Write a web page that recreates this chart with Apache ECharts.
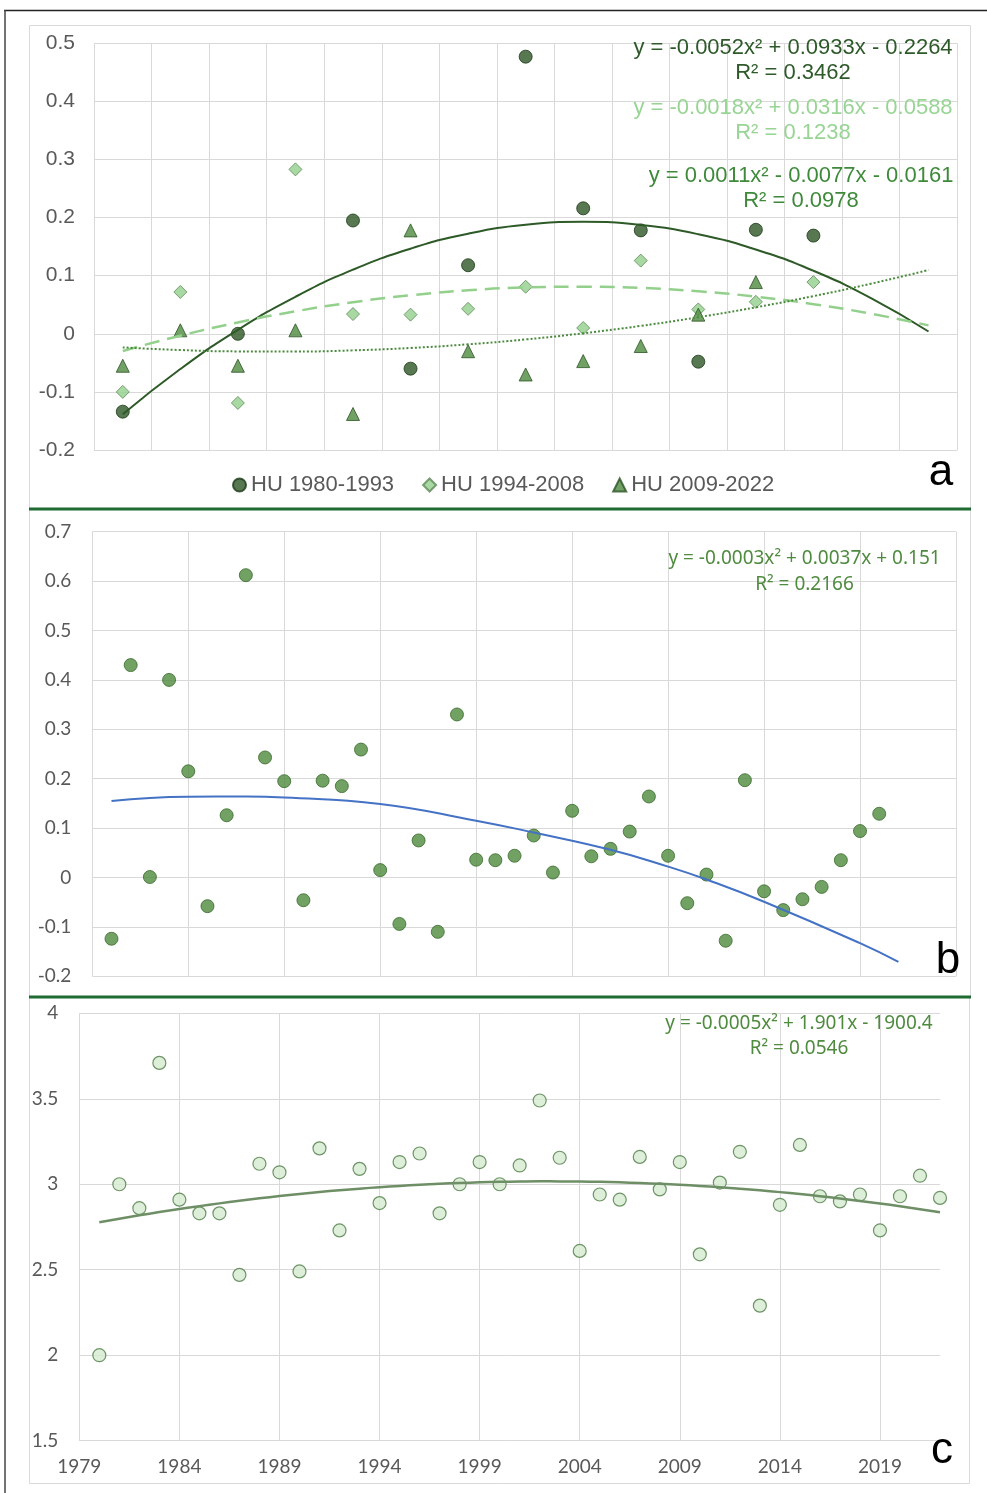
<!DOCTYPE html>
<html><head><meta charset="utf-8">
<script src="https://cdn.jsdelivr.net/npm/echarts@6/dist/echarts.min.js"></script>
<style>html,body{margin:0;padding:0;background:#fff}#c{width:987px;height:1493px}</style>
</head><body><div id="c"></div>
<script>
// ---------- Panel a ----------
const catsA = ['1','2','3','4','5','6','7','8','9','10','11','12','13','14','15'];
const hu8093 = [-0.134, null, 0.000, null, 0.195, -0.060, 0.118, 0.477, 0.216, 0.178, -0.048, 0.179, 0.169, null, null];
const hu9408 = [-0.100, 0.072, -0.119, 0.283, 0.034, 0.033, 0.043, 0.081, 0.010, 0.126, 0.042, 0.055, 0.089, null, null];
const hu0922 = [-0.055, 0.006, -0.055, 0.006, -0.138, 0.178, -0.030, -0.070, -0.047, -0.021, 0.033, 0.089, null, null, null];
const namesA = ['HU 1980-1993', 'HU 1994-2008', 'HU 2009-2022'];
const eqA1 = ['y = -0.0052x² + 0.0933x - 0.2264', 'R² = 0.3462'];
const eqA2 = ['y = -0.0018x² + 0.0316x - 0.0588', 'R² = 0.1238'];
const eqA3 = ['y = 0.0011x² - 0.0077x - 0.0161', 'R² = 0.0978'];
const ticksA = [-0.2, -0.1, 0, 0.1, 0.2, 0.3, 0.4, 0.5];

// ---------- Panel b ----------
const yearsB = ['1979','1980','1981','1982','1983','1984','1985','1986','1987','1988','1989','1990','1991','1992','1993','1994','1995','1996','1997','1998','1999','2000','2001','2002','2003','2004','2005','2006','2007','2008','2009','2010','2011','2012','2013','2014','2015','2016','2017','2018','2019','2020','2021','2022','2023','2024'];
const valuesB = [null,
  -0.124, 0.430, 0.001, 0.400, 0.215, -0.058, 0.126, 0.612, 0.243, 0.195,
  -0.046, 0.196, 0.185, 0.259, 0.015, -0.094, 0.075, -0.110, 0.330, 0.036,
  0.035, 0.044, 0.085, 0.010, 0.135, 0.043, 0.058, 0.093, 0.164, 0.044,
  -0.052, 0.006, -0.128, 0.197, -0.028, -0.066, -0.044, -0.019, 0.035, 0.094,
  0.129, null, null, null, null];
// trendline of panel b (year, value)
const trendYearsB = ['1980','1984','1987','1989','1994','1999','2002','2006','2009','2011','2014','2019','2021'];
const trendValuesB = [0.155, 0.1636, 0.164, 0.162, 0.149, 0.115, 0.091, 0.056, 0.022, -0.004, -0.049, -0.133, -0.171];
const eqB = ['y = -0.0003x² + 0.0037x + 0.151', 'R² = 0.2166'];

// ---------- Panel c ----------
const yearsC = ['1979','1980','1981','1982','1983','1984','1985','1986','1987','1988','1989','1990','1991','1992','1993','1994','1995','1996','1997','1998','1999','2000','2001','2002','2003','2004','2005','2006','2007','2008','2009','2010','2011','2012','2013','2014','2015','2016','2017','2018','2019','2020','2021','2022'];
const valuesC = [null,
  2.00, 3.00, 2.86, 3.71, 2.91, 2.83, 2.83, 2.47, 3.12, 3.07,
  2.49, 3.21, 2.73, 3.09, 2.89, 3.13, 3.18, 2.83, 3.00, 3.13,
  3.00, 3.11, 3.49, 3.155, 2.61, 2.94, 2.91, 3.16, 2.97, 3.13,
  2.59, 3.01, 3.19, 2.29, 2.88, 3.23, 2.93, 2.90, 2.94, 2.73,
  2.93, 3.05, 2.92];
const eqC = ['y = -0.0005x² + 1.901x - 1900.4', 'R² = 0.0546'];

// ---- least squares quadratic trendline (like Excel's polynomial trendline) ----
function quadFit(values) {
  const pts = [];
  values.forEach((v, i) => { if (v != null) pts.push([i, v]); });
  const n = pts.length;
  const mx = pts.reduce((s, p) => s + p[0], 0) / n;
  const S = [0, 0, 0, 0, 0], T = [0, 0, 0];
  pts.forEach(([x0, y]) => {
    const x = x0 - mx; let p = 1;
    for (let k = 0; k < 5; k++) { S[k] += p; if (k < 3) T[k] += p * y; p *= x; }
  });
  const M = [[S[0], S[1], S[2]], [S[1], S[2], S[3]], [S[2], S[3], S[4]]];
  const det = m => m[0][0]*(m[1][1]*m[2][2]-m[1][2]*m[2][1]) - m[0][1]*(m[1][0]*m[2][2]-m[1][2]*m[2][0]) + m[0][2]*(m[1][0]*m[2][1]-m[1][1]*m[2][0]);
  const D = det(M);
  const c = [0, 1, 2].map(j => det(M.map((row, r) => row.map((v, col) => col === j ? T[r] : v))) / D);
  return i => { const x = i - mx; return c[0] + c[1] * x + c[2] * x * x; };
}
function trendData(values, nCats, from, to) {
  const f = quadFit(values);
  const out = [];
  for (let i = 0; i < nCats; i++) out.push(i >= from && i <= to ? +f(i).toFixed(5) : null);
  return out;
}
const trendA1 = trendData(hu8093, catsA.length, 0, catsA.length - 1);
const trendA2 = trendData(hu9408, catsA.length, 0, catsA.length - 1);
const trendA3 = trendData(hu0922, catsA.length, 0, catsA.length - 1);
const trendB = yearsB.map(y => { const i = trendYearsB.indexOf(y); return i >= 0 ? trendValuesB[i] : null; });
const trendC = trendData(valuesC, yearsC.length, 1, yearsC.length - 1);

const GRID = '#d9d9d9';
const LBL = '#595959';
const ARIAL = "'Liberation Sans', Arial, sans-serif";
const CAL = "Lato, 'Noto Sans', sans-serif";
const EQF = "'Noto Sans', Lato, sans-serif";
const fmt1 = v => String(+(+v).toFixed(2));

function txt(t, x, y, font, color) {
  return { type: 'text', z: 100, style: { text: t, x: x, y: y, font: font, fill: color, align: 'center', verticalAlign: 'middle' } };
}

const option = {
  animation: false,
  backgroundColor: '#fff',
  grid: [
    { left: 94, top: 43.3, width: 863.3, height: 406.7, outerBoundsMode: 'none' },
    { left: 92.3, top: 531.7, width: 863.7, height: 444.6, outerBoundsMode: 'none' },
    { left: 79.3, top: 1013.3, width: 860.7, height: 427.4, outerBoundsMode: 'none' }
  ],
  xAxis: [
    { type: 'category', gridIndex: 0, data: catsA, boundaryGap: true,
      axisLabel: { show: false }, axisTick: { show: false }, axisLine: { show: false },
      splitLine: { show: true, interval: 0, lineStyle: { color: GRID, width: 1 } } },
    { type: 'category', gridIndex: 1, data: yearsB, boundaryGap: false,
      axisLabel: { show: false }, axisTick: { show: false }, axisLine: { show: false },
      splitLine: { show: true, interval: 4, lineStyle: { color: GRID, width: 1 } } },
    { type: 'category', gridIndex: 2, data: yearsC, boundaryGap: false,
      axisLabel: { interval: 4, fontSize: 19, color: LBL, fontFamily: CAL, margin: 17 },
      axisTick: { show: false }, axisLine: { show: true, lineStyle: { color: GRID, width: 1 } },
      splitLine: { show: true, interval: 4, lineStyle: { color: GRID, width: 1 } } }
  ],
  yAxis: [
    { type: 'value', gridIndex: 0, min: ticksA[0], max: ticksA[ticksA.length - 1], interval: 0.1,
      axisLabel: { fontSize: 21, color: LBL, fontFamily: ARIAL, margin: 19, formatter: fmt1 },
      axisTick: { show: false }, axisLine: { show: false },
      splitLine: { show: true, lineStyle: { color: GRID, width: 1 } } },
    { type: 'value', gridIndex: 1, min: -0.2, max: 0.7, interval: 0.1,
      axisLabel: { fontSize: 19, color: LBL, fontFamily: CAL, margin: 21, formatter: fmt1 },
      axisTick: { show: false }, axisLine: { show: false },
      splitLine: { show: true, lineStyle: { color: GRID, width: 1 } } },
    { type: 'value', gridIndex: 2, min: 1.5, max: 4, interval: 0.5,
      axisLabel: { fontSize: 19, color: LBL, fontFamily: CAL, margin: 21, formatter: fmt1 },
      axisTick: { show: false }, axisLine: { show: false },
      splitLine: { show: true, lineStyle: { color: GRID, width: 1 } } }
  ],
  legend: {
    data: namesA, left: 227, top: 469, itemGap: 28, itemWidth: 13, itemHeight: 13,
    textStyle: { fontSize: 22, color: LBL, fontFamily: ARIAL }, selectedMode: false
  },
  series: [
    { name: namesA[0], type: 'scatter', xAxisIndex: 0, yAxisIndex: 0, data: hu8093, symbol: 'circle', symbolSize: 13,
      itemStyle: { color: '#2e5626', borderColor: '#1c3818', borderWidth: 1 }, z: 3 },
    { name: namesA[1], type: 'scatter', xAxisIndex: 0, yAxisIndex: 0, data: hu9408, symbol: 'diamond', symbolSize: 13,
      itemStyle: { color: '#93cf8c', borderColor: '#5e8a58', borderWidth: 1 }, z: 3 },
    { name: namesA[2], type: 'scatter', xAxisIndex: 0, yAxisIndex: 0, data: hu0922, symbol: 'triangle', symbolSize: 13,
      itemStyle: { color: '#4f8a3f', borderColor: '#2c5424', borderWidth: 1 }, z: 3 },
    { type: 'line', xAxisIndex: 0, yAxisIndex: 0, data: trendA1, smooth: true, showSymbol: false, symbol: 'none',
      lineStyle: { color: '#2d5a27', width: 2 }, z: 4, silent: true },
    { type: 'line', xAxisIndex: 0, yAxisIndex: 0, data: trendA2, smooth: true, showSymbol: false, symbol: 'none',
      lineStyle: { color: '#93d08c', width: 2.5, type: [15, 8] }, z: 4, silent: true },
    { type: 'line', xAxisIndex: 0, yAxisIndex: 0, data: trendA3, smooth: true, showSymbol: false, symbol: 'none',
      lineStyle: { color: '#4a8a3c', width: 2, type: [2, 2] }, z: 4, silent: true },

    { type: 'scatter', xAxisIndex: 1, yAxisIndex: 1, data: valuesB, symbol: 'circle', symbolSize: 13,
      itemStyle: { color: '#4e8a3c', borderColor: '#3a6a2c', borderWidth: 1 }, z: 3 },
    { type: 'line', xAxisIndex: 1, yAxisIndex: 1, data: trendB, smooth: true, connectNulls: true, showSymbol: false, symbol: 'none',
      lineStyle: { color: '#4472c4', width: 2 }, z: 4, silent: true },

    { type: 'scatter', xAxisIndex: 2, yAxisIndex: 2, data: valuesC, symbol: 'circle', symbolSize: 13,
      itemStyle: { color: '#d5eacf', borderColor: '#4e7a45', borderWidth: 1.2 }, z: 3 },
    { type: 'line', xAxisIndex: 2, yAxisIndex: 2, data: trendC, smooth: true, showSymbol: false, symbol: 'none',
      lineStyle: { color: '#6e8e65', width: 2.5 }, z: 4, silent: true }
  ],
  graphic: [
    { type: 'line', z: 50, shape: { x1: 4, y1: 10.5, x2: 987, y2: 10.5 }, style: { stroke: '#222', lineWidth: 1.5 } },
    { type: 'line', z: 50, shape: { x1: 5, y1: 10, x2: 5, y2: 1493 }, style: { stroke: '#444', lineWidth: 1.5 } },
    { type: 'rect', z: 1, shape: { x: 29.5, y: 25.5, width: 941, height: 483 }, style: { fill: 'none', stroke: GRID, lineWidth: 1 } },
    { type: 'rect', z: 1, shape: { x: 29.5, y: 509.5, width: 941, height: 487 }, style: { fill: 'none', stroke: GRID, lineWidth: 1 } },
    { type: 'rect', z: 1, shape: { x: 29.5, y: 997.5, width: 940, height: 486 }, style: { fill: 'none', stroke: GRID, lineWidth: 1 } },
    { type: 'line', z: 60, shape: { x1: 29, y1: 509, x2: 971, y2: 509 }, style: { stroke: '#1f6b33', lineWidth: 3 } },
    { type: 'line', z: 60, shape: { x1: 29, y1: 997, x2: 971, y2: 997 }, style: { stroke: '#1f6b33', lineWidth: 3 } },
    txt(eqA1[0], 793, 47.5, '22px ' + ARIAL, '#2e5a2a'),
    txt(eqA1[1], 793, 72.5, '22px ' + ARIAL, '#2e5a2a'),
    txt(eqA2[0], 793, 107.5, '22px ' + ARIAL, '#98d594'),
    txt(eqA2[1], 793, 132.5, '22px ' + ARIAL, '#98d594'),
    txt(eqA3[0], 801, 175.8, '22px ' + ARIAL, '#3e8a3a'),
    txt(eqA3[1], 801, 200.8, '22px ' + ARIAL, '#3e8a3a'),
    txt(eqB[0], 804.5, 558.3, '19px ' + EQF, '#4f8b3f'),
    txt(eqB[1], 804.5, 584.2, '19px ' + EQF, '#4f8b3f'),
    txt(eqC[0], 799, 1023.3, '19px ' + EQF, '#4f8b3f'),
    txt(eqC[1], 799, 1049, '19px ' + EQF, '#4f8b3f'),
    txt('a', 941, 473, '44px ' + ARIAL, '#000'),
    txt('b', 948, 961, '44px ' + ARIAL, '#000'),
    txt('c', 942, 1451, '44px ' + ARIAL, '#000')
  ]
};
const chart = echarts.init(document.getElementById('c'));
chart.setOption(option);
</script>
</body></html>
